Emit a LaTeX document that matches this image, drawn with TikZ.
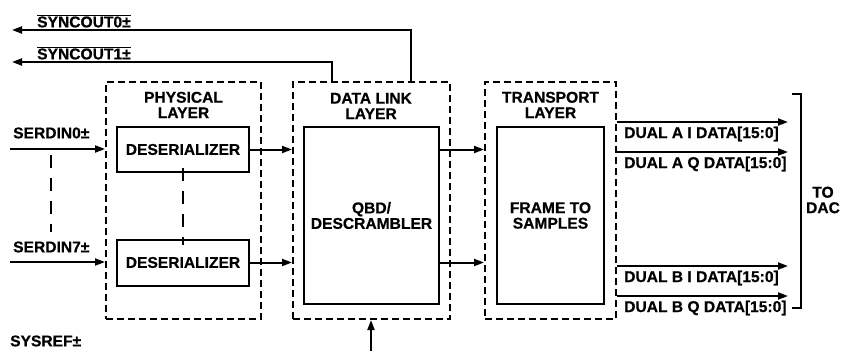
\documentclass[tikz,border=0pt]{standalone}
\usepackage{fontspec}
\setmainfont[BoldFeatures={FakeBold=0.6}]{Liberation Sans}
\usetikzlibrary{arrows.meta}
\tikzstyle{arrow} = [line width=2pt, -{Triangle[length=10pt,width=7pt]}]
\tikzstyle{wire} = [line width=2pt]
\tikzstyle{layer} = [draw, line width=2pt, dash pattern=on 7pt off 4pt, inner sep=0pt]
\tikzstyle{block} = [draw, line width=2pt, inner sep=0pt, align=center]
\tikzstyle{lbl} = [inner sep=0pt, align=center]
\tikzstyle{gap} = [line width=2pt, dash pattern=on 13pt off 10pt]

\begin{document}
\begin{tikzpicture}[x=1pt, y=-1pt, font=\fontsize{15.6}{15.5}\selectfont\bfseries]
            \useasboundingbox (0,0) rectangle (841,351);
            % layers
            \node [layer, minimum width=155pt, minimum height=237pt] (phy) at (183.5,200.5) {};
            \node [layer, minimum width=157pt, minimum height=237pt] (dll) at (371.5,200.5) {};
            \node [layer, minimum width=131pt, minimum height=237pt] (tpl) at (550.5,200.5) {};
            \node [lbl] (phyname) at (183.5,105) {PHYSICAL\\LAYER};
            \node [lbl] (dllname) at (371,106) {DATA LINK\\LAYER};
            \node [lbl] (tplname) at (550.5,105) {TRANSPORT\\LAYER};
            % blocks
            \node [block, minimum width=132pt, minimum height=45pt] (des0) at (183,149.5) {DESERIALIZER};
            \node [block, minimum width=132pt, minimum height=46pt] (des7) at (183,262.5) {DESERIALIZER};
            \node [block, minimum width=135pt, minimum height=177pt] (qbd) at (371.5,215.5) {QBD/\\DESCRAMBLER};
            \node [block, minimum width=107pt, minimum height=177pt] (fts) at (550.5,215.5) {FRAME TO\\SAMPLES};
            % inputs
            \coordinate (sin0) at (10,149);
            \coordinate (sin7) at (10,262);
            \node [lbl, anchor=west] (sin0name) at (13,133) {SERDIN0±};
            \node [lbl, anchor=west] (sin7name) at (13,247) {SERDIN7±};
            \draw [arrow] (sin0) -- (sin0 -| phy.west);
            \draw [arrow] (sin7) -- (sin7 -| phy.west);
            \draw [gap] (51,155) -- (51,232);
            \draw [gap] ([yshift=5pt]des0.south) -- ([yshift=-6pt]des7.north);
            \draw [arrow] (des0.east) -- (des0.east -| dll.west);
            \draw [arrow] (des7.east) -- (des7.east -| dll.west);
            \draw [arrow] (qbd.east |- des0) -- (tpl.west |- des0);
            \draw [arrow] (qbd.east |- des7) -- (tpl.west |- des7);
            % sync outputs
            \coordinate (sync0) at (411,30);
            \coordinate (sync1) at (332,62);
            \coordinate (left) at (12,0);
            \draw [arrow] (sync0 |- dll.north) -- (sync0) -- (sync0 -| left);
            \draw [arrow] (sync1 |- dll.north) -- (sync1) -- (sync1 -| left);
            \node [lbl, anchor=west] (sync0name) at (37,21) {$\overline{\mbox{\bfseries SYNCOUT0±}}$};
            \node [lbl, anchor=west] (sync1name) at (37,53) {$\overline{\mbox{\bfseries SYNCOUT1±}}$};
            % sysref
            \coordinate (sysref) at (371,351);
            \draw [arrow] (sysref) -- (sysref |- dll.south);
            \node [lbl, anchor=west] (sysrefname) at (10,341) {SYSREF±};
            % outputs
            \coordinate (dac) at (788,0);
            \foreach \y/\name/\txt in {122/ai/DUAL A I DATA[15:0], 152/aq/DUAL A Q DATA[15:0], 266/bi/DUAL B I DATA[15:0], 296/bq/DUAL B Q DATA[15:0]} {
                \coordinate (\name) at (tpl.east |- 0,\y);
                \draw [arrow] (\name) -- (\name -| dac);
                \node [lbl, anchor=west] (\name name) at ([xshift=7pt, yshift=-12pt]\name) {\txt};
            }
            \draw [wire] (792,94) -- (801,94) -- (801,308) -- (792,308);
            \node [lbl] (todac) at (823,200) {TO\\DAC};
            \end{tikzpicture}
\end{document}
